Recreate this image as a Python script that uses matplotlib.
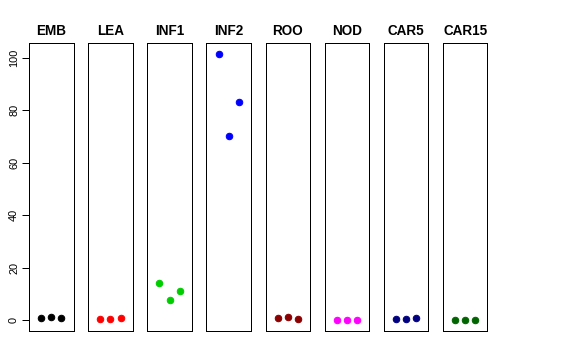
import matplotlib
matplotlib.use("Agg")
import matplotlib.pyplot as plt

plt.rcParams['font.family'] = ['Liberation Sans', 'DejaVu Sans']

# tissues and values (3 replicates each)
tissues = ['EMB', 'LEA', 'INF1', 'INF2', 'ROO', 'NOD', 'CAR5', 'CAR15']
emb = [0.7, 1.2, 0.7]
lea = [0.3, 0.5, 0.6]
inf1 = [14.0, 7.8, 11.1]
inf2 = [101.6, 70.2, 83.3]
roo = [0.6, 1.2, 0.5]
nod = [0.0, 0.0, 0.0]
car5 = [0.4, 0.4, 0.6]
car15 = [-0.1, 0.0, 0.0]
colors = ['black', 'red', '#00CD00', 'blue', '#8B0000', 'magenta', '#000080', '#006400']

values = [emb, lea, inf1, inf2, roo, nod, car5, car15]
yticks = [0, 20, 40, 60, 80, 100]

fig = plt.figure(figsize=(8, 5), dpi=72)
W, H = 576, 360

for i, (name, vals, col) in enumerate(zip(tissues, values, colors)):
    left = 29 + 59.14 * i
    ax = fig.add_axes([left / W, (360 - 331) / H, 44.5 / W, 288 / H])
    ax.plot([1, 2, 3], vals, 'o', color=col, markersize=6.5, linestyle='none')
    ax.set_xlim(-0.2, 4.2)
    ax.set_ylim(-4.2, 105.7)
    ax.set_xticks([])
    ax.set_title(name, fontsize=13.5, fontweight='bold', pad=8)
    for s in ax.spines.values():
        s.set_linewidth(1)
    if i == 0:
        ax.set_yticks(yticks)
        ax.tick_params(axis='y', length=7, width=1, pad=3, labelsize=11)
        for lab in ax.get_yticklabels():
            lab.set_rotation(90)
            lab.set_va('center')
    else:
        ax.set_yticks([])

fig.savefig('out.png', dpi=72)
